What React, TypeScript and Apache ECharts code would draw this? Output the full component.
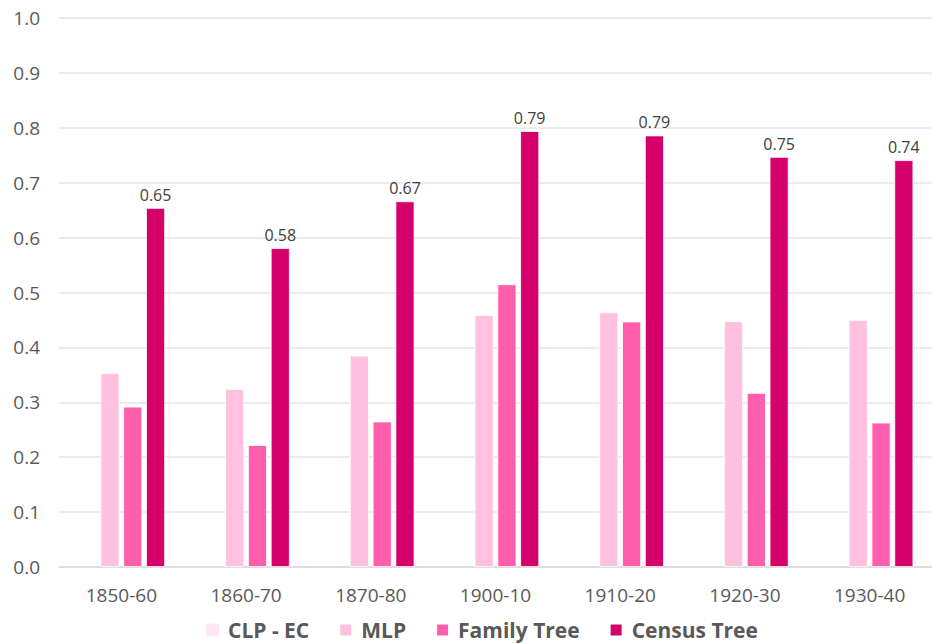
import React, { useEffect, useRef } from "react";
import * as echarts from "echarts";

const categories = ["1850-60", "1860-70", "1870-80", "1900-10", "1910-20", "1920-30", "1930-40"];
const seriesNames = ["CLP - EC", "MLP", "Family Tree", "Census Tree"];
const clpEc = [0, 0, 0, 0, 0, 0, 0];
const mlp = [0.353, 0.324, 0.385, 0.459, 0.464, 0.448, 0.45];
const familyTree = [0.292, 0.222, 0.265, 0.515, 0.447, 0.317, 0.263];
const censusTree = [0.654, 0.581, 0.666, 0.794, 0.786, 0.747, 0.741];
const colors = ["#FFE8F3", "#FFC1DF", "#FF5EAD", "#D6006B"];

const FONT = "'Open Sans', sans-serif";

export default function App() {
  const ref = useRef<HTMLDivElement>(null);
  useEffect(() => {
    if (!ref.current) return;
    const chart = echarts.init(ref.current, undefined, { renderer: "svg" });
    const data = [clpEc, mlp, familyTree, censusTree];
    chart.setOption({
      animation: false,
      backgroundColor: "#ffffff",
      textStyle: { fontFamily: FONT },
      grid: { left: 59, right: 0, top: 18, bottom: 77, containLabel: false },
      legend: {
        left: 206,
        top: 618,
        padding: 0,
        icon: "rect",
        itemWidth: 13,
        itemHeight: 13,
        itemGap: 29,
        textStyle: {
          fontFamily: FONT,
          fontSize: 21,
          lineHeight: 24,
          fontWeight: "bold",
          color: "#595959",
          padding: [0, 0, 0, 4],
        },
        data: seriesNames,
      },
      xAxis: {
        type: "category",
        data: categories,
        axisTick: { show: false },
        axisLine: { lineStyle: { color: "#d9d9d9", width: 1.5 } },
        axisLabel: { fontFamily: FONT, fontSize: 19, color: "#595959", margin: 18 },
      },
      yAxis: {
        type: "value",
        min: 0,
        max: 1,
        interval: 0.1,
        axisLine: { show: false },
        axisTick: { show: false },
        splitLine: { lineStyle: { color: "#e6e6e6", width: 1.5 } },
        axisLabel: {
          fontFamily: FONT,
          fontSize: 19,
          color: "#595959",
          margin: 19,
          formatter: (v: number) => v.toFixed(1),
        },
      },
      series: seriesNames.map((name, i) => ({
        name,
        type: "bar",
        data: data[i],
        barWidth: 19,
        barGap: "20%",
        itemStyle: { color: colors[i], borderColor: "#ffffff", borderWidth: i === 0 ? 0 : 0.8 },
        label:
          i === 3
            ? {
                show: true,
                position: "top",
                distance: 5,
                fontFamily: FONT,
                fontSize: 16,
                color: "#404040",
                formatter: (p: any) => Number(p.value).toFixed(2),
              }
            : { show: false },
      })),
    });
    return () => chart.dispose();
  }, []);
  return <div ref={ref} style={{ position: "fixed", left: 0, top: 0, width: 932, height: 644 }} />;
}
